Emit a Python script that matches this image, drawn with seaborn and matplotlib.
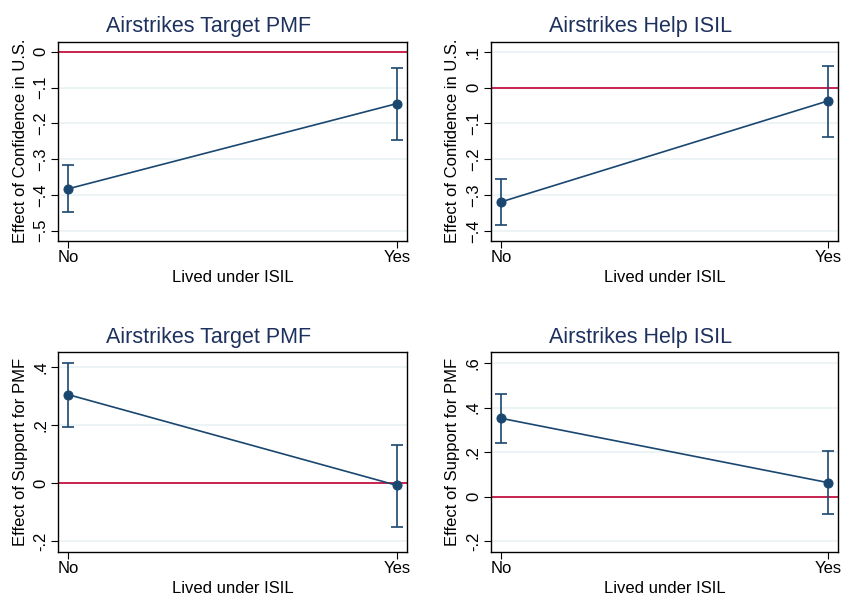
import numpy as np
import pandas as pd
import matplotlib
matplotlib.use("Agg")
import matplotlib.pyplot as plt
import seaborn as sns

# ---- data ----
categories = ["No", "Yes"]
titles = ["Airstrikes Target PMF", "Airstrikes Help ISIL",
          "Airstrikes Target PMF", "Airstrikes Help ISIL"]
ylabels = ["Effect of Confidence in U.S.", "Effect of Confidence in U.S.",
           "Effect of Support for PMF", "Effect of Support for PMF"]

conf_target_est = [-0.383, -0.145]
conf_target_lo = [-0.447, -0.246]
conf_target_hi = [-0.317, -0.046]

conf_help_est = [-0.319, -0.037]
conf_help_lo = [-0.384, -0.137]
conf_help_hi = [-0.256, 0.061]

pmf_target_est = [0.306, -0.007]
pmf_target_lo = [0.195, -0.150]
pmf_target_hi = [0.416, 0.133]

pmf_help_est = [0.352, 0.063]
pmf_help_lo = [0.242, -0.076]
pmf_help_hi = [0.461, 0.205]

yticks_vals = [[0, -0.1, -0.2, -0.3, -0.4, -0.5],
               [0.1, 0, -0.1, -0.2, -0.3, -0.4],
               [0.4, 0.2, 0, -0.2],
               [0.6, 0.4, 0.2, 0, -0.2]]
yticks_labels = [["0", "\u2212.1", "\u2212.2", "\u2212.3", "\u2212.4", "\u2212.5"],
                 [".1", "0", "\u2212.1", "\u2212.2", "\u2212.3", "\u2212.4"],
                 [".4", ".2", "0", "-.2"],
                 [".6", ".4", ".2", "0", "-.2"]]
ylims = [(-0.528, 0.028), (-0.427, 0.128), (-0.236, 0.452), (-0.247, 0.648)]

panels = [
    (conf_target_est, conf_target_lo, conf_target_hi),
    (conf_help_est, conf_help_lo, conf_help_hi),
    (pmf_target_est, pmf_target_lo, pmf_target_hi),
    (pmf_help_est, pmf_help_lo, pmf_help_hi),
]

sns.set_theme(style="white")
plt.rcParams['font.family'] = ['Liberation Sans', 'DejaVu Sans']

navy = "#1a476f"
title_col = "#1e315e"
red = "#c8234f"
grid = "#eaf2f3"

fig = plt.figure(figsize=(8.43, 5.93), dpi=100)
W, H = 843, 593
boxes = [(58, 41.7, 407, 240.7), (490.7, 41.7, 838.3, 240.7),
         (58, 352.3, 407, 551.7), (490.7, 352.3, 838.3, 551.7)]

for i, (est, lo, hi) in enumerate(panels):
    x0, y0, x1, y1 = boxes[i]
    ax = fig.add_axes([x0 / W, 1 - y1 / H, (x1 - x0) / W, (y1 - y0) / H])
    df = pd.DataFrame({"x": [0, 1], "est": est, "lo": lo, "hi": hi})
    for t in yticks_vals[i]:
        if t != 0:
            ax.axhline(t, color=grid, lw=1.2, zorder=0)
    ax.axhline(0, color=red, lw=1.4, zorder=1)
    ax.errorbar(df["x"], df["est"],
                yerr=[df["est"] - df["lo"], df["hi"] - df["est"]],
                fmt="none", ecolor=navy, elinewidth=1.2, capsize=4, capthick=1.2, zorder=2)
    sns.lineplot(data=df, x="x", y="est", ax=ax, color=navy, lw=1.2,
                 marker="o", markersize=6.5, markeredgecolor=navy, zorder=3)
    ax.set_xlim(-0.031, 1.031)
    ax.set_ylim(*ylims[i])
    ax.set_xticks([0, 1])
    ax.set_xticklabels(categories, fontsize=12, color="black")
    ax.set_yticks(yticks_vals[i])
    ax.set_yticklabels(yticks_labels[i], rotation=90, va="center", fontsize=12, color="black")
    ax.tick_params(axis="both", which="both", direction="out", length=5, width=0.8,
                   color="black", bottom=True, left=True, pad=2)
    ax.set_xlabel("Lived under ISIL", fontsize=12, color="black", labelpad=3)
    ax.set_ylabel(ylabels[i], fontsize=12, color="black", labelpad=4)
    ax.set_title(titles[i], fontsize=15.5, color=title_col, pad=7, x=0.43)
    for s in ax.spines.values():
        s.set_color("black")
        s.set_linewidth(1.0)
    ax.grid(False)

fig.savefig("out.png", dpi=100, facecolor="white")
